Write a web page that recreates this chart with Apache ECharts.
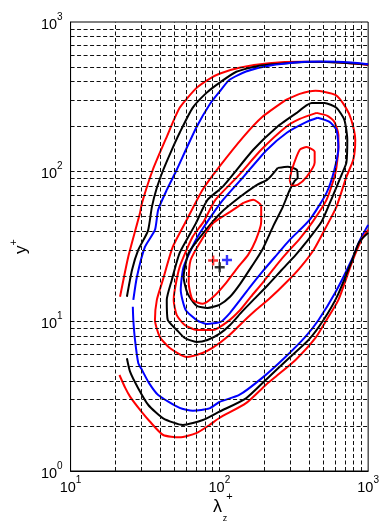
<!DOCTYPE html>
<html>
<head>
<meta charset="utf-8">
<script src="https://cdn.jsdelivr.net/npm/echarts/dist/echarts.min.js"></script>
<style>
  html, body { margin: 0; padding: 0; background: #fff; }
  #chart { width: 382px; height: 523px; }
</style>
</head>
<body>
<div id="chart"></div>
<script>
// grid line positions (dashed, MATLAB style)
const GRID_X = [20, 30, 40, 50, 60, 70, 80, 90, 100, 200, 300, 400, 500, 600, 700, 800, 900]
const GRID_Y = [2, 3, 4, 5, 6, 7, 8, 9, 10, 20, 30, 40, 50, 60, 70, 80, 90, 100, 200, 300, 400, 500, 600, 700, 800, 900]

// open outer contours (cut by lambda limits)
const redUpper = [[21.5,14.6],[24.4,26.9],[29.3,53.1],[30.2,61.9],[35.7,103],[44.3,171],[54.1,267],[70.3,363],[85.8,417],[100,451],[136,494],[215,530],[357,542],[603,538],[1000,517]]
const blackUpper = [[23.9,14.6],[25.9,22.1],[28.5,30.0],[33.1,40.2],[35.2,58.2],[38.0,78.0],[42.0,103],[47.9,140],[54.1,182],[66.1,267],[81.9,336],[100,392],[130,465],[185,510],[280,531],[471,542],[1000,521]]
const blueTop = [[1000,523],[771,536],[517,544],[357,540],[215,510],[151,467],[117,411],[100,341],[85.8,280],[70.3,199],[60.3,144],[51.7,103],[44.3,75.5],[38.8,55.6],[36.9,40.8],[31.6,31.4],[27.9,19.8],[26.4,13.9]]
const blueBottom = [[26.2,12.5],[26.4,10.2],[27.1,7.51],[28.5,5.27],[30.2,4.73],[33.6,3.88],[38.8,3.22],[54.1,2.64],[66.4,2.53],[85.8,2.62],[100,2.89],[136,3.22],[194,4.19],[278,5.78],[378,7.87],[464,10.2],[600,15.5],[774,25.7],[881,35.0],[1000,44.1]]
const redLower = [[21.3,4.38],[23.3,3.59],[25.1,3.14],[29.3,2.56],[34.1,2.14],[41.9,1.74],[54.1,1.68],[69.9,1.79],[85.8,2.03],[100,2.26],[151,2.84],[205,3.76],[239,4.27],[325,5.52],[441,7.71],[525,10.2],[631,13.9],[774,24.4],[902,35.0],[1000,40.8]]
const blackLower = [[23.9,5.67],[25.1,4.61],[28.4,3.59],[33.3,2.76],[41.9,2.25],[56.9,2.03],[77.4,2.19],[100,2.49],[151,3.06],[205,4.06],[293,5.67],[398,7.51],[501,10.2],[621,14.8],[771,24.9],[871,33.9],[1000,39.0]]

// closed inner contours
const ringA = [[280,302],[347,331],[443,347],[603,326],[703,271],[770,222],[819,163],[794,120],[714,92.3],[612,58.2],[509,40.8],[430,30.0],[347,22.7],[280,18.1],[219,14.3],[176,11.9],[147,10.1],[115,7.99],[89.8,6.64],[77.0,6.15],[60.3,5.78],[46.4,6.64],[39.8,7.86],[36.9,10.2],[38.0,13.9],[41.7,18.9],[48.6,31.4],[60.3,47.6],[77.0,75.5],[100,108],[145,171],[194,232],[280,302]]
const ringB = [[331,247],[417,288],[509,288],[612,267],[692,222],[724,163],[714,115],[671,98.2],[575,67.9],[486,46.2],[380,33.4],[326,27.8],[263,22.1],[212,17.5],[174,14.3],[142,11.6],[118,9.46],[100,8.24],[83.2,7.51],[70.3,7.29],[58.5,7.74],[51.7,8.76],[45.0,10.2],[44.3,13.9],[47.9,18.9],[54.1,28.7],[69.2,44.8],[83.2,64.8],[105,79.1],[169,140],[244,199],[331,247]]
const ringC = [[450,247],[533,236],[593,215],[631,176],[631,146],[603,98.2],[525,64.8],[423,46.2],[342,35.0],[288,29.1],[240,23.5],[197,18.3],[163,14.6],[138,11.9],[113,9.91],[91.2,8.76],[70.3,8.76],[58.5,9.46],[51.7,11.0],[49.3,13.9],[50.1,16.2],[54.1,23.1],[66.1,36.7],[78.2,46.2],[94.0,64.8],[132,92.3],[191,140],[280,199],[347,225],[450,247]]
const ringD = [[457,229],[550,215],[612,190],[631,146],[593,103],[525,72.2],[404,47.6],[297,35.0],[240,27.4],[194,21.4],[161,17.0],[138,13.9],[118,11.4],[102,9.91],[81.9,9.61],[70.3,10.2],[59.4,11.9],[55.0,16.2],[57.5,23.1],[71.4,36.7],[102,61.9],[145,92.3],[209,140],[284,182],[386,215],[457,229]]
const ringE = [[247,106],[288,108],[331,103],[336,90.9],[321,86.8],[297,75.5],[267,58.2],[229,42.8],[194,30.0],[166,23.5],[138,17.8],[118,14.6],[100,12.9],[83.2,12.3],[70.3,12.7],[61.2,15.3],[57.5,19.8],[62.2,28.7],[78.2,39.0],[102,53.0],[138,67.9],[179,81.6],[209,88.1],[226,95.2],[247,106]]
const ringF = [[145,61.9],[169,64.8],[191,59.1],[191,46.2],[176,35.0],[156,27.8],[132,22.7],[111,18.1],[91.2,14.6],[77.4,13.1],[66.1,13.9],[62.2,18.1],[64.1,25.7],[75.9,35.0],[91.2,45.5],[118,53.9],[145,61.9]]
const ringG = [[297,88.1],[307,103],[347,140],[386,146],[437,136],[437,115],[386,92.3],[336,81.6],[307,80.4],[297,88.1]]

// peak markers
const peakRed = [90.8, 25.5]
const peakBlue = [112.5, 25.7]
const peakBlack = [100.5, 23.0]

const RED = '#ff0000', BLUE = '#0000ff', BLACK = '#000000'
const FONT = 'Liberation Sans, Arial, sans-serif'
const PLUS = 'path://M3.8,0h2.4v3.8h3.8v2.4h-3.8v3.8h-2.4v-3.8h-3.8v-2.4h3.8z'

function contour(data, color) {
  return {
    type: 'line', data, symbol: 'none', smooth: 0.2, z: 3, silent: true,
    lineStyle: { color, width: 2 },
  }
}

const chart = echarts.init(document.getElementById('chart'), null, { renderer: 'canvas' })

const expLabel = v => '{b|10}{s|' + Math.round(Math.log10(v)) + '}'
const labelRich = {
  b: { fontSize: 14.5, fontFamily: FONT, color: '#000', lineHeight: 20, verticalAlign: 'bottom' },
  s: { fontSize: 10, fontFamily: FONT, color: '#000', lineHeight: 20, verticalAlign: 'top' },
}
const gridLine = { color: '#111', width: 1, type: [4, 2.5] }

chart.setOption({
  animation: false,
  backgroundColor: '#fff',
  grid: { left: 69, right: 13, top: 22, bottom: 52, show: true, borderColor: '#000', borderWidth: 1 },
  xAxis: {
    type: 'log', logBase: 10, min: 10, max: 1000,
    axisLine: { show: true, lineStyle: { color: '#000' } },
    axisTick: { show: false },
    splitLine: { show: false },
    axisLabel: { formatter: expLabel, rich: labelRich, margin: 4 },
  },
  yAxis: {
    type: 'log', logBase: 10, min: 1, max: 1000,
    axisLine: { show: true, lineStyle: { color: '#000' } },
    axisTick: { show: false },
    splitLine: { show: false },
    axisLabel: { formatter: expLabel, rich: labelRich, margin: 8 },
    name: '{a|y}{s|+}', nameLocation: 'middle', nameGap: 40, nameRotate: 90,
    nameTextStyle: {
      rich: {
        a: { fontSize: 17, fontFamily: FONT, color: '#000', lineHeight: 22, verticalAlign: 'bottom' },
        s: { fontSize: 11, fontFamily: FONT, color: '#000', lineHeight: 22, verticalAlign: 'top' },
      },
    },
  },
  graphic: [
    { type: 'text', x: 217.5, y: 507, style: { text: 'λ', font: '18px ' + FONT, fill: '#000', align: 'center', verticalAlign: 'middle', textAlign: 'center', textVerticalAlign: 'middle' } },
    { type: 'text', x: 229.5, y: 497, style: { text: '+', font: '11px ' + FONT, fill: '#000', align: 'center', verticalAlign: 'middle', textAlign: 'center', textVerticalAlign: 'middle' } },
    { type: 'text', x: 225, y: 519, style: { text: 'z', font: '9px ' + FONT, fill: '#000', align: 'center', verticalAlign: 'middle', textAlign: 'center', textVerticalAlign: 'middle' } },
  ],
  series: [
    {
      type: 'line', data: [], z: 1, silent: true,
      markLine: {
        silent: true, symbol: ['none', 'none'], label: { show: false }, animation: false,
        lineStyle: gridLine,
        data: GRID_X.map(v => ({ xAxis: v })).concat(GRID_Y.map(v => ({ yAxis: v }))),
      },
    },
    contour(redUpper, RED),
    contour(blackUpper, BLACK),
    contour(blueTop, BLUE),
    contour(blueBottom, BLUE),
    contour(redLower, RED),
    contour(blackLower, BLACK),
    contour(ringA, RED),
    contour(ringB, BLACK),
    contour(ringC, RED),
    contour(ringD, BLUE),
    contour(ringE, BLACK),
    contour(ringF, RED),
    contour(ringG, RED),
    {
      type: 'scatter', symbol: PLUS, symbolSize: 10, z: 4, silent: true,
      data: [
        { value: peakRed, itemStyle: { color: RED } },
        { value: peakBlue, itemStyle: { color: BLUE } },
        { value: peakBlack, itemStyle: { color: BLACK } },
      ],
    },
  ],
})
</script>
</body>
</html>
